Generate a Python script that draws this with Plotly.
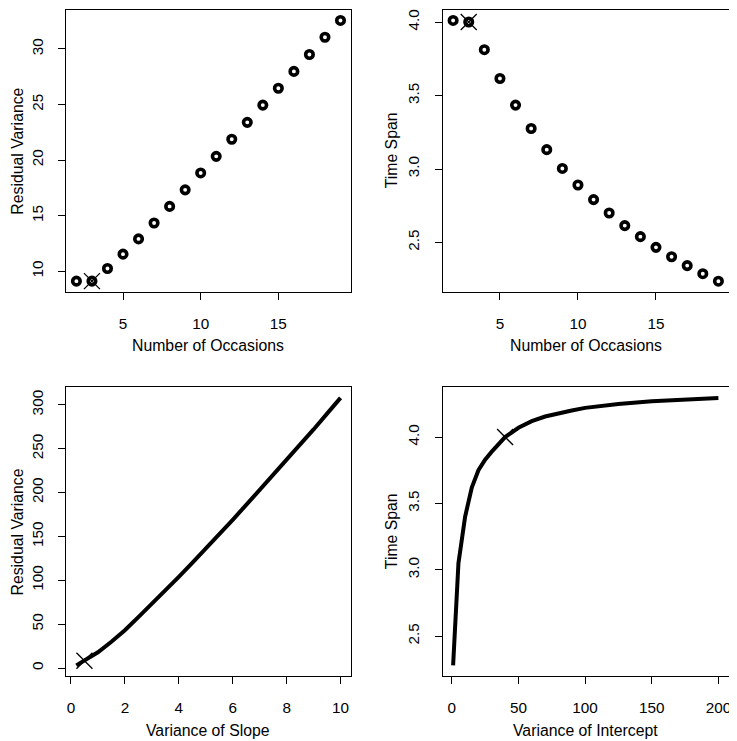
import plotly.graph_objects as go
from plotly.subplots import make_subplots

# top panels: number of occasions
occasions = list(range(2, 20))
resid_var = [9.12, 9.12, 10.26, 11.55, 12.92, 14.35, 15.84, 17.33, 18.85, 20.34,
             21.88, 23.40, 24.95, 26.46, 27.98, 29.50, 31.05, 32.56]
time_span = [4.011, 4.000, 3.812, 3.616, 3.435, 3.276, 3.132, 3.004, 2.891, 2.792,
             2.701, 2.615, 2.540, 2.467, 2.403, 2.343, 2.288, 2.237]

# bottom left: variance of slope
slope_var = [0.2, 0.5, 1, 1.5, 2, 2.5, 3, 3.5, 4, 4.5, 5, 5.5, 6, 6.5, 7, 7.5, 8, 8.5, 9, 9.5, 10]
slope_resid = [3, 8.3, 18, 30, 43, 58, 73, 88, 104, 120, 136, 152, 169, 186, 203, 220,
               237, 255, 272, 290, 308]

# bottom right: variance of intercept
icpt_var = [1, 5, 10, 15, 20, 25, 30, 35, 40, 50, 60, 70, 80, 90, 100, 125, 150, 175, 200]
icpt_span = [2.28, 3.05, 3.40, 3.62, 3.75, 3.83, 3.89, 3.95, 4.00, 4.07, 4.12, 4.155,
             4.18, 4.20, 4.22, 4.25, 4.27, 4.285, 4.295]

# chosen design (X marks)
chosen = [(3, 9.12), (3, 4.0), (0.5, 8.3), (40, 4.0)]

xtitles = ["Number of Occasions", "Number of Occasions", "Variance of Slope", "Variance of Intercept"]
ytitles = ["Residual Variance", "Time Span", "Residual Variance", "Time Span"]

fig = make_subplots(rows=2, cols=2)

ring = dict(symbol="circle-open", size=7.5, color="black", line=dict(width=3.6, color="black"))
fig.add_trace(go.Scatter(x=occasions, y=resid_var, mode="markers", marker=ring), row=1, col=1)
fig.add_trace(go.Scatter(x=occasions, y=time_span, mode="markers", marker=ring), row=1, col=2)
fig.add_trace(go.Scatter(x=slope_var, y=slope_resid, mode="lines",
                         line=dict(color="black", width=4)), row=2, col=1)
fig.add_trace(go.Scatter(x=icpt_var, y=icpt_span, mode="lines",
                         line=dict(color="black", width=4)), row=2, col=2)

cells = [(1, 1), (1, 2), (2, 1), (2, 2)]
for (r, c), (cx, cy) in zip(cells, chosen):
    fig.add_trace(go.Scatter(x=[cx], y=[cy], mode="markers",
                             marker=dict(symbol="x-thin-open", size=16, color="black",
                                         line=dict(width=1.3, color="black"))),
                  row=r, col=c)

# the page puts the figure 8px in from the top left corner
W, H = 729, 733
xdom = [[58 / W, 344 / W], [435.7 / W, 723 / W]]
ydom = [[1 - 283 / H, 1 - 1 / H], [1 - 668 / H, 1 - 378.7 / H]]
ytitle_shift = [-48, -51]

xranges = [[1.32, 19.68], [1.32, 19.68], [-0.19, 10.39], [-6.96, 207.96]]
yranges = [[8.18, 33.5], [2.166, 4.082], [-9.2, 320.2], [2.199, 4.376]]
xticks = [[5, 10, 15], [5, 10, 15], [0, 2, 4, 6, 8, 10], [0, 50, 100, 150, 200]]
yticks = [[10, 15, 20, 25, 30], [2.5, 3.0, 3.5, 4.0], [0, 50, 100, 150, 200, 250, 300], [2.5, 3.0, 3.5, 4.0]]
yfmt = ["", ".1f", "", ".1f"]

axis_style = dict(showgrid=False, zeroline=False, showline=True, mirror=True,
                  linecolor="black", linewidth=1, ticks="outside", ticklen=7,
                  tickwidth=1, tickcolor="black", tickfont=dict(size=15.3, color="black"))

for i, (r, c) in enumerate(cells):
    n = "" if i == 0 else str(i + 1)
    fig.layout["xaxis" + n].update(domain=xdom[c - 1], range=xranges[i], tickvals=xticks[i],
                                   ticklabelstandoff=11, **axis_style)
    fig.layout["yaxis" + n].update(domain=ydom[r - 1], range=yranges[i], tickvals=yticks[i],
                                   tickformat=yfmt[i], tickangle=-90, ticklabelstandoff=9,
                                   **axis_style)
    fig.add_annotation(text=xtitles[i], xref="x" + n + " domain", yref="y" + n + " domain",
                       x=0.5, y=0, yshift=-54, showarrow=False, xanchor="center",
                       yanchor="middle", font=dict(size=15.8, color="black"))
    fig.add_annotation(text=ytitles[i], xref="x" + n + " domain", yref="y" + n + " domain",
                       x=0, y=0.5, xshift=ytitle_shift[c - 1], showarrow=False, textangle=-90,
                       xanchor="center", yanchor="middle", font=dict(size=15.8, color="black"))

fig.update_layout(width=W, height=H, showlegend=False, plot_bgcolor="white",
                  paper_bgcolor="white", margin=dict(l=0, r=0, t=0, b=0),
                  font=dict(family="Liberation Sans, Arial, sans-serif", color="black"))

fig.write_html("out.html")
